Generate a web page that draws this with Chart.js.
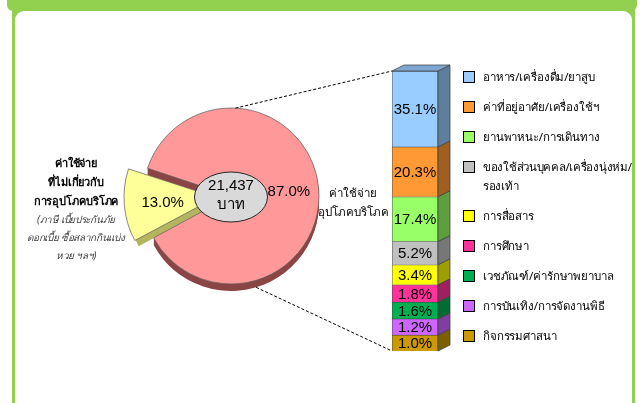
<!DOCTYPE html>
<html>
<head>
<meta charset="utf-8">
<script src="https://cdn.jsdelivr.net/npm/chart.js@4.4.1/dist/chart.umd.min.js"></script>
<style>
  html, body { margin: 0; padding: 0; background: #fff; }
  #wrap { position: relative; width: 643px; height: 403px; overflow: hidden; font-family: Tahoma, "Noto Sans", "DejaVu Sans", sans-serif; }
  .frame { position: absolute; left: 12px; top: 0; width: 623px; height: 403px; background: #92d050; }
  .inner { position: absolute; left: 15px; top: 11px; width: 617px; height: 400px; background: #fff; border-radius: 9px 9px 0 0; }
  .band { position: absolute; left: 7px; top: 0; width: 630px; height: 11px; background: #92d050; border-radius: 0 0 6px 6px; }
  canvas { position: absolute; }
  #pie { left: 0; top: 0; z-index: 1; }
  #bar { left: 370px; top: 55px; z-index: 2; }
  .note { position: absolute; z-index: 3; text-align: center; color: #000; }
  #leftNote { left: 16px; top: 153px; width: 120px; }
  #leftNote b { display: block; font-size: 11px; line-height: 19px; letter-spacing: -0.1px; }
  #leftNote i { display: block; font-size: 10px; line-height: 18px; color: #404040; letter-spacing: -0.3px; }
  #rightNote { left: 305px; top: 183px; width: 96px; font-size: 11.5px; line-height: 19px; }
  #legend { position: absolute; left: 463px; top: 67px; z-index: 3; }
  .item { position: relative; padding-left: 20px; margin-bottom: 11px; font-size: 11.5px; line-height: 19px; letter-spacing: -0.15px; white-space: pre-line; }
  .item.wrap { letter-spacing: -0.3px; }
  .box { position: absolute; left: 0; top: 4px; width: 10px; height: 10px; border: 1px solid #000; }
</style>
</head>
<body>
<div id="wrap">
  <div class="frame"></div>
  <div class="inner"></div>
  <div class="band"></div>
  <canvas id="pie" width="643" height="403"></canvas>
  <canvas id="bar" width="100" height="310"></canvas>
  <div class="note" id="leftNote"></div>
  <div class="note" id="rightNote"></div>
  <div id="legend"></div>
</div>
<script>
const pieLabels = ['ค่าใช้จ่ายอุปโภคบริโภค', 'ค่าใช้จ่ายที่ไม่เกี่ยวกับการอุปโภคบริโภค'];
const pieShares = [87.0, 13.0];
const pieColors = ['#FF9999', '#FFFF99'];
const pieSideColors = ['#8B4545', '#B5B560'];
const totalSpend = '21,437';
const totalUnit = 'บาท';

const barCats = [
  'อาหาร/เครื่องดื่ม/ยาสูบ',
  'ค่าที่อยู่อาศัย/เครื่องใช้ฯ',
  'ยานพาหนะ/การเดินทาง',
  'ของใช้ส่วนบุคคล/เครื่องนุ่งห่ม/\nรองเท้า',
  'การสื่อสาร',
  'การศึกษา',
  'เวชภัณฑ์/ค่ารักษาพยาบาล',
  'การบันเทิง/การจัดงานพิธี',
  'กิจกรรมศาสนา',
];
const barShares = [35.1, 20.3, 17.4, 5.2, 3.4, 1.8, 1.6, 1.2, 1.0];
const barColors = ['#99CCFF', '#FF9933', '#99FF66', '#C0C0C0', '#FFFF00', '#FF3399', '#00B050', '#CC66FF', '#CC9900'];

const leftNoteBold = ['ค่าใช้จ่าย', 'ที่ไม่เกี่ยวกับ', 'การอุปโภคบริโภค'];
const leftNoteItalic = ['(ภาษี เบี้ยประกันภัย', 'ดอกเบี้ย ซื้อสลากกินแบ่ง', 'หวย ฯลฯ)'];
const rightNote = ['ค่าใช้จ่าย', 'อุปโภคบริโภค'];

// the reference stretches every segment by the same amount so thin ones stay readable
const SEG_PAD = 8;
const NUM_FONT = '"Liberation Sans", Arial, sans-serif';

function shade(hex, f) {
  const n = parseInt(hex.slice(1), 16);
  const r = Math.round(((n >> 16) & 255) * f);
  const g = Math.round(((n >> 8) & 255) * f);
  const b = Math.round((n & 255) * f);
  return `rgb(${r},${g},${b})`;
}

// text blocks and legend
document.getElementById('leftNote').innerHTML =
  leftNoteBold.map((t) => `<b>${t}</b>`).join('') + leftNoteItalic.map((t) => `<i>${t}</i>`).join('');
document.getElementById('rightNote').innerHTML = rightNote.join('<br>');
document.getElementById('legend').innerHTML = barCats
  .map((c, i) => `<div class="item${c.includes('\n') ? ' wrap' : ''}"><span class="box" style="background:${barColors[i]}"></span>${c}</div>`)
  .join('');

const bar3d = {
  id: 'bar3d',
  afterDatasetsDraw(chart, args, opts) {
    const { ctx } = chart;
    const n = chart.data.datasets.length;
    ctx.save();
    ctx.lineWidth = 0.75;
    ctx.strokeStyle = '#404040';
    for (let d = 0; d < n; d++) {
      const el = chart.getDatasetMeta(d).data[0];
      const { x, y, base, width } = el.getProps(['x', 'y', 'base', 'width'], true);
      const color = chart.data.datasets[d].backgroundColor;
      const l = x - width / 2, r = x + width / 2;
      ctx.beginPath();
      ctx.moveTo(r, y);
      ctx.lineTo(r + opts.dx, y + opts.dy);
      ctx.lineTo(r + opts.dx, base + opts.dy);
      ctx.lineTo(r, base);
      ctx.closePath();
      ctx.fillStyle = shade(color, 0.62);
      ctx.fill();
      ctx.stroke();
      if (d === n - 1) {
        ctx.beginPath();
        ctx.moveTo(l, y);
        ctx.lineTo(l + opts.dx, y + opts.dy);
        ctx.lineTo(r + opts.dx, y + opts.dy);
        ctx.lineTo(r, y);
        ctx.closePath();
        ctx.fillStyle = shade(color, 0.82);
        ctx.fill();
        ctx.stroke();
      }
    }
    ctx.font = `15px ${NUM_FONT}`;
    ctx.fillStyle = '#000';
    ctx.textAlign = 'center';
    ctx.textBaseline = 'middle';
    for (let d = 0; d < n; d++) {
      const el = chart.getDatasetMeta(d).data[0];
      const { x, y, base } = el.getProps(['x', 'y', 'base'], true);
      ctx.fillText(chart.data.datasets[d].share.toFixed(1) + '%', x, (y + base) / 2 + 1);
    }
    ctx.restore();
  },
};

const barDatasets = barCats
  .map((c, i) => ({
    label: c,
    share: barShares[i],
    data: [barShares[i] + SEG_PAD],
    backgroundColor: barColors[i],
    borderColor: '#404040',
    borderWidth: 0.75,
    barPercentage: 1,
    categoryPercentage: 1,
  }))
  .reverse();
const barMax = barShares.reduce((a, b) => a + b + SEG_PAD, 0);

const barChart = new Chart(document.getElementById('bar'), {
  type: 'bar',
  data: { labels: [''], datasets: barDatasets },
  options: {
    responsive: false,
    animation: false,
    events: [],
    layout: { padding: { left: 22, right: 32, top: 16, bottom: 14 } },
    scales: {
      x: { display: false, stacked: true },
      y: { display: false, stacked: true, min: 0, max: barMax },
    },
    plugins: {
      legend: { display: false },
      tooltip: { enabled: false },
      bar3d: { dx: 12, dy: -6 },
    },
  },
  plugins: [bar3d],
});

// Chart.js moves an arc by a quarter of its offset option
const shift = (arc) => (arc.options.offset || 0) / 4;

const pieDecor = {
  id: 'pieDecor',
  beforeDatasetsDraw(chart, args, opts) {
    const { ctx } = chart;
    const arcs = chart.getDatasetMeta(0).data;
    ctx.save();
    arcs.forEach((arc, i) => {
      const { x, y, startAngle, endAngle, outerRadius } = arc.getProps(['x', 'y', 'startAngle', 'endAngle', 'outerRadius'], true);
      const mid = (startAngle + endAngle) / 2;
      const cx = x + Math.cos(mid) * shift(arc);
      const cy = y + Math.sin(mid) * shift(arc);
      ctx.fillStyle = pieSideColors[i];
      for (let k = opts.depth; k > 0; k--) {
        ctx.beginPath();
        ctx.moveTo(cx, cy + k);
        ctx.arc(cx, cy + k, outerRadius, startAngle, endAngle);
        ctx.closePath();
        ctx.fill();
      }
    });
    ctx.restore();
  },
  afterDatasetsDraw(chart, args, opts) {
    const { ctx } = chart;
    const arcs = chart.getDatasetMeta(0).data;
    const { x: px, y: py, outerRadius: R } = arcs[0].getProps(['x', 'y', 'outerRadius'], true);
    ctx.save();

    // slice labels
    ctx.font = `15px ${NUM_FONT}`;
    ctx.fillStyle = '#000';
    ctx.textAlign = 'center';
    ctx.textBaseline = 'middle';
    arcs.forEach((arc, i) => {
      const { startAngle, endAngle } = arc.getProps(['startAngle', 'endAngle'], true);
      const mid = (startAngle + endAngle) / 2;
      const d = R * 0.66 + shift(arc) * 0.7;
      ctx.fillText(pieShares[i].toFixed(1) + '%', px + Math.cos(mid) * d, py + Math.sin(mid) * d + 1);
    });

    // centre badge
    ctx.beginPath();
    ctx.ellipse(px, py + 1, 36.5, 25, 0, 0, Math.PI * 2);
    ctx.fillStyle = '#D9D9D9';
    ctx.fill();
    ctx.lineWidth = 1;
    ctx.strokeStyle = '#262626';
    ctx.stroke();
    ctx.fillStyle = '#000';
    ctx.fillText(totalSpend, px, py - 10);
    ctx.font = `15px Tahoma, "Noto Sans", sans-serif`;
    ctx.fillText(totalUnit, px, py + 9);

    // dashed connectors to the breakdown bar
    const canvasBar = barChart.canvas;
    const ox = canvasBar.offsetLeft, oy = canvasBar.offsetTop;
    const n = barChart.data.datasets.length;
    const topEl = barChart.getDatasetMeta(n - 1).data[0].getProps(['x', 'y', 'width'], true);
    const botEl = barChart.getDatasetMeta(0).data[0].getProps(['x', 'base', 'width'], true);
    const a1 = -Math.PI / 2 + 0.05;
    const a2 = Math.PI / 2 - 0.29;
    ctx.setLineDash([3, 2]);
    ctx.strokeStyle = '#000';
    ctx.lineWidth = 1;
    ctx.beginPath();
    ctx.moveTo(px + Math.cos(a1) * R, py + Math.sin(a1) * R);
    ctx.lineTo(ox + topEl.x - topEl.width / 2, oy + topEl.y);
    ctx.moveTo(px + Math.cos(a2) * R, py + Math.sin(a2) * R + opts.depth);
    ctx.lineTo(ox + botEl.x - botEl.width / 2, oy + botEl.base);
    ctx.stroke();
    ctx.restore();
  },
};

new Chart(document.getElementById('pie'), {
  type: 'pie',
  data: {
    labels: pieLabels,
    datasets: [{
      data: pieShares,
      backgroundColor: pieColors,
      borderColor: 'rgba(90,90,90,0.7)',
      borderWidth: 1,
      offset: [0, 60],
    }],
  },
  options: {
    responsive: false,
    animation: false,
    events: [],
    rotation: -71.6,
    radius: 88,
    layout: { padding: { left: 131, right: 312, top: 96, bottom: 107 } },
    plugins: {
      legend: { display: false },
      tooltip: { enabled: false },
      pieDecor: { depth: 7 },
    },
  },
  plugins: [pieDecor],
});
</script>
</body>
</html>
